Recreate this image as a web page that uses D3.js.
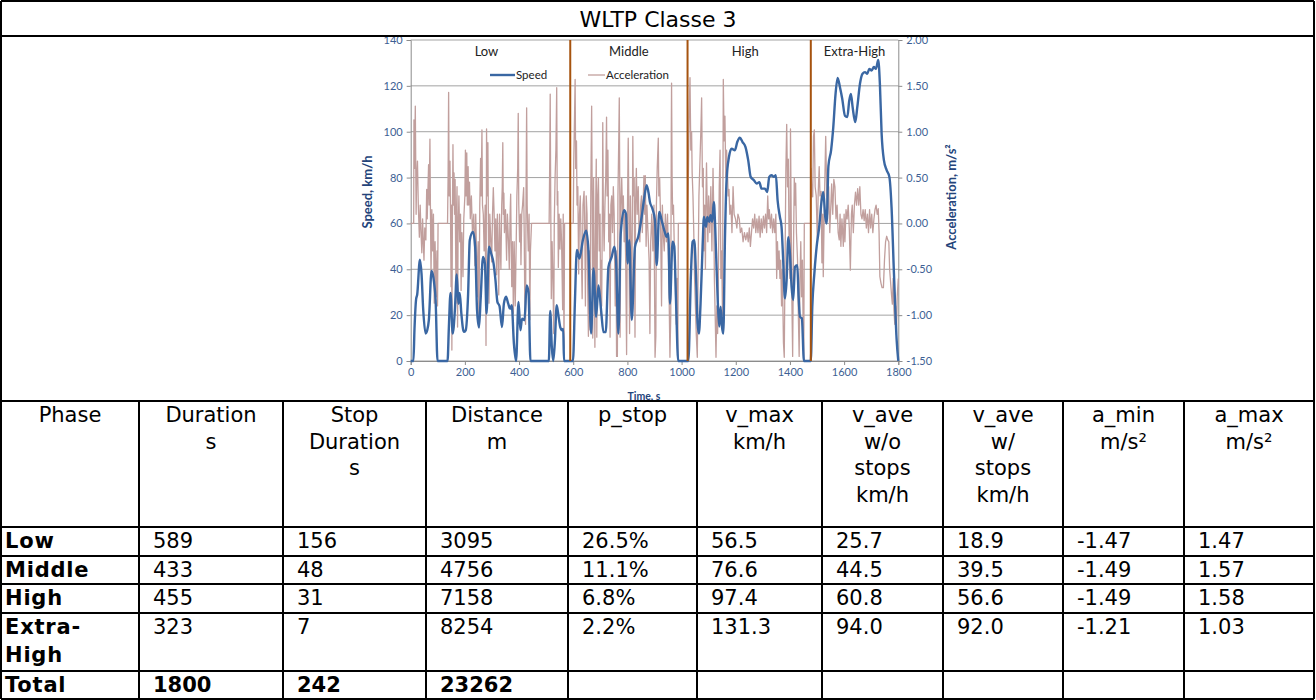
<!DOCTYPE html>
<html>
<head>
<meta charset="utf-8">
<script src="https://d3js.org/d3.v7.min.js"></script>
<title>WLTP Classe 3</title>
<style>
  body { margin: 0; padding: 0; background: #fff; }
  svg { display: block; }
  .cell { font-family: "DejaVu Sans", sans-serif; font-size: 21px; fill: #000; }
  .ax text { font-family: Lato, "Noto Sans", sans-serif; font-size: 11px; fill: #3d5f94; }
  .ax path, .ax line { stroke: #8c8c8c; }
  .lbl { font-family: Lato, "Noto Sans", sans-serif; font-size: 13px; fill: #222; }
  .atitle { font-family: Lato, sans-serif; font-weight: bold; fill: #24447a; }
</style>
</head>
<body>
<script>
// ---- table data ----
var title = "WLTP Classe 3";
var headers = [["Phase"], ["Duration", "s"], ["Stop", "Duration", "s"], ["Distance", "m"], ["p_stop"],
  ["v_max", "km/h"], ["v_ave", "w/o", "stops", "km/h"], ["v_ave", "w/", "stops", "km/h"], ["a_min", "m/s²"], ["a_max", "m/s²"]];
var phases = ["Low", "Middle", "High", "Extra-High"];
var duration = [589, 433, 455, 323];
var stopDuration = [156, 48, 31, 7];
var distance = [3095, 4756, 7158, 8254];
var pStop = ["26.5%", "11.1%", "6.8%", "2.2%"];
var vMax = [56.5, 76.6, 97.4, 131.3];
var vAveNoStops = [25.7, 44.5, 60.8, 94.0];
var vAveStops = [18.9, 39.5, 56.6, 92.0];
var aMin = [-1.47, -1.49, -1.49, -1.21];
var aMax = [1.47, 1.57, 1.58, 1.03];
var totalRow = ["Total", 1800, 242, 23262];

// ---- chart data ----
var timeTicks = [0, 200, 400, 600, 800, 1000, 1200, 1400, 1600, 1800];
var speedTicks = [0, 20, 40, 60, 80, 100, 120, 140];
var accelTicks = [-1.5, -1, -0.5, 0, 0.5, 1, 1.5, 2];

var speedT = [0,10,14,20,24,34,40,46,55,61,67,77,86,92,99,136,141,147,155,163,170,176,181,187,196,203,212,218,230,238,245,252,258,267,274,280,289,297,306,313,320,328,337,344,352,360,367,373,381,389,398,405,411,420,428,435,442,510,515,521,526,532,539,546,552,559,563,566,
  589,599,606,613.5,623,635.5,647.8,656,666,674.8,684.6,693,703,711.6,720,730,742,752,758,766.7,775.4,787.6,795,801,807,816,828,840,852.7,861,871,878.5,883,891.8,901.7,908,917.6,926.4,936,944.7,951,957,966.8,973,979,987.6,1022,
  1025,1034.5,1040.6,1046.8,1053,1059,1064,1070,1077.5,1082.5,1090,1094.8,1102,1107,1113,1119,1124,1129,1134,1139,1144,1149,1154,1160,1166,1175,1184.6,1197,1205.5,1215,1225,1236,1246,1255,1267,1277,1287,1295,1307.7,1316,1323.7,1332,1341,1348,1354.5,1363,1369,1375,1381.5,1387.7,1394,1400,1406,1412,1418.5,1427,1432,1437,1444,1451.7,1477,
  1482.5,1490,1498.5,1508,1517,1523,1530.5,1535.4,1542,1552,1560,1568,1576,1584.6,1593,1603,1611.7,1619,1625,1631.4,1641,1648.6,1658.5,1668,1677,1685.5,1693,1701.5,1710,1717.5,1726,1732,1738.5,1747,1757,1767,1775,1784,1794,1800];
var speedV = [0,0,14,27,29,44.2,38,22.8,12,13.4,17.8,39.3,34.5,26.5,0,0,15,29.7,12,22,37.8,25,29.7,20.7,12.7,13.4,29.4,52.7,56.3,49.8,22,14.6,26.5,45.4,42.5,20.7,49.8,46.9,42.5,35.2,25.8,23.9,14.8,25,28,25,22.8,24.3,7.6,0,25.8,13.4,18.5,17.8,33,30,0,0,21.8,6,0,8,24.3,19.2,14.8,13.4,14,0,
  0,0,25,48.4,44.7,52.7,56.8,48.4,12,40.4,19.3,33,22,12.6,12.6,41,45.4,49.8,44,12,55.6,65.8,64,42.5,52.7,17.9,49.8,54.2,62.9,70.2,76.7,73,69.4,66.6,61.4,41.8,65,61.4,57,54.2,55.6,25,52,50,28,0,0,
  0,38,52,52.7,38,16.4,12,25,49.8,62.8,58.5,62.8,60.7,63.6,60.7,69.4,58.5,41,25,15,23.7,15,12,52.7,78.8,89,92.6,91.9,95.5,97.4,95.5,93.3,87.5,80.3,78.8,77.4,78,75.2,75.2,73.7,80.3,81,80.3,81,70,62.8,58.5,44,27.3,35.3,54,46.9,32.4,26.6,41,41.8,28,19.3,18.6,0,0,
  23.7,38,49.8,58.5,70,73.7,62.8,60,85,92,102,116,123.5,119.4,114.4,107,106.4,113.6,116.5,110.7,104.2,110.7,120.9,125.3,126,125.3,127.4,126.7,128.2,127.4,131.3,120.9,99,87.5,83.2,80.3,67.2,38,9,0];

var accelT = [0,11,12,14,17,20,22,25,28,32,35,38,41,44,47,49,52,56,59,61,63,66,68,71,73,75,78,81,84,87,90,94,97,99,101,136,138,140,142,145,147,149,151,152,154,156,158,160,162,164,166,167,169,171,173,175,178,181,184,186,189,193,196,200,202,204,207,209,212,214,217,220,224,228,233,237,240,243,246,249,252,255,258,260,263,265,268,271,275,278,280,282,285,287,289,292,296,299,302,305,308,311,314,317,320,322,325,328,330,333,336,338,340,342,344,346,350,354,357,361,364,367,369,371,373,376,379,382,386,389,392,395,397,399,402,405,407,410,413,417,419,421,424,426,428,430,432,434,437,440,442,446,511,513,515,517,519,522,525,528,530,533,536,539,541,543,545,548,551,554,557,561,563,566,568,
  600,602,605,607,609,612,614,617,620,623,626,629,633,636,640,643,645,648,651,653,656,659,662,665,668,670,672,675,678,680,683,685,687,690,693,696,699,701,704,705,708,709,711,714,717,720,723,725,728,731,734,736,739,742,745,748,751,755,758,760,763,765,768,770,772,773,776,779,782,785,788,791,794,797,800,803,805,808,811,814,816,819,820,822,825,828,830,833,836,840,843,846,849,852,855,858,861,864,866,869,872,876,880,883,886,890,894,898,902,905,907,910,914,916,919,922,926,929,932,936,940,944,948,951,954,957,960,962,963,965,967,970,974,977,980,983,986,988,1022,
  1025,1028,1031,1034,1037,1039,1042,1045,1048,1051,1054,1058,1061,1064,1068,1071,1074,1077,1080,1082,1085,1088,1090,1092,1095,1097,1100,1104,1108,1112,1116,1119,1121,1124,1127,1130,1133,1136,1139,1142,1145,1148,1151,1154,1157,1160,1163,1166,1169,1172,1175,1178,1182,1186,1190,1194,1199,1204,1208,1213,1217,1222,1227,1232,1237,1242,1246,1250,1254,1258,1262,1266,1270,1274,1278,1282,1286,1290,1294,1298,1302,1306,1310,1314,1318,1321,1324,1328,1332,1336,1340,1344,1348,1351,1354,1357,1360,1363,1366,1369,1372,1376,1379,1382,1385,1388,1391,1394,1397,1400,1402,1404,1407,1410,1413,1416,1419,1421,1424,1428,1431,1434,1437,1440,1443,1446,1449,1451,1453,1477,
  1478,1481,1484,1487,1490,1493,1497,1501,1504,1508,1511,1515,1518,1521,1523,1527,1532,1536,1539,1543,1547,1551,1554,1558,1562,1566,1570,1574,1578,1582,1585,1588,1592,1597,1600,1603,1607,1611,1615,1619,1623,1627,1630,1634,1638,1642,1646,1650,1654,1658,1662,1666,1670,1674,1678,1682,1686,1690,1694,1698,1702,1706,1710,1714,1718,1722,1726,1729,1732,1736,1740,1745,1749,1753,1757,1761,1765,1768,1771,1775,1778,1781,1784,1787,1790,1793,1796,1800];
var accelV = [0,0,1.13,0.6,1.28,0.1,0.5,0.68,0.2,-0.15,0.2,-0.1,-0.32,0.05,-0.25,-0.4,-0.05,-0.18,0.37,0.05,0.3,0.64,0.2,0.92,0.1,-0.54,0.15,-0.3,0.1,-0.87,-0.2,-0.8,-0.3,-0.9,0,0,0.5,1.43,0.3,0.68,0.1,-0.69,0.2,-1.38,0.1,0.86,0.2,0.55,0.1,0.48,-0.3,-0.87,0.1,0.4,-1.13,-0.1,0.3,-0.2,0.1,-0.73,-0.1,-0.58,0.05,0.3,0.8,0.3,0.77,0.2,0.62,0.2,0.45,0.05,0.3,-0.1,0.1,-0.46,0.1,-0.3,-0.8,-0.2,-1.13,0.2,0.71,0.3,1.02,0.2,0.1,-0.3,0.2,-1.33,1.03,0.3,0.88,-0.1,-0.87,0.1,-0.2,-0.42,0.1,0.39,0.1,-0.3,0.05,-0.56,0.1,-0.2,-0.78,0.1,-0.2,-0.5,0.2,0.4,0.88,0.1,0.33,-0.1,0.15,-0.4,0.1,-0.2,-0.5,0.1,0.32,-0.2,-0.69,-0.2,-0.98,-0.2,-0.9,-0.3,0.3,0.6,1.2,0.2,-0.2,0.1,-0.45,0.1,0.2,0.39,-0.1,-0.8,-1.1,0.4,1.26,0.2,-0.1,-0.3,0.1,-1.05,-0.3,0,0,0.6,1.41,0.2,-0.82,-0.2,-0.6,-1.2,0,0.5,0.8,1.48,0.2,0.35,-0.48,0.1,-0.28,0.05,-0.2,-0.94,0.1,-1.36,0,
  0,0.7,1.2,1.57,0.6,0.9,0.2,0.4,-0.55,0.1,0.3,-0.2,-0.82,0.2,0.35,-0.2,-0.9,0.3,0.1,-0.6,-1.23,-0.3,-1.16,0.4,1.28,0.3,-1.25,0.5,-0.6,-1.35,0.2,0.7,-1.24,0.3,0.5,-0.3,0.1,-1.0,-0.4,-0.9,0.3,1.1,0.2,-0.3,0.2,0.5,1.16,0.3,0.8,-0.2,0.1,-1.24,0.2,0.3,-0.1,0.4,0.1,-0.9,-0.3,-1.45,-1.45,0.3,0.9,1.37,0.3,-1.24,0.2,0.5,0.1,0.3,-0.2,0.1,-0.5,-1.43,0.1,0.93,0.3,-1.2,0.3,-0.4,-0.9,0.4,0.95,0.3,0.5,-1.24,0.2,0.6,0.1,0.4,-0.1,-0.2,0.2,0.3,-0.1,0.2,0.52,0.1,0.52,-0.25,0.2,-0.1,-0.4,-1.2,-0.2,0.1,-0.3,0.2,-1.46,-1.23,0.2,0.6,0.93,0.3,0.5,0.1,-0.9,0.2,-0.1,-0.3,0.1,-0.2,0.1,-0.3,-0.8,-1.46,-1.0,1.0,1.53,0.5,0.1,0.2,-0.4,-0.6,-1.1,-0.6,-1.46,0,0,
  0.5,1.2,1.59,0.8,1.0,0.55,0.3,-0.1,-0.6,-0.9,-1.2,-1.46,-0.5,0.3,0.7,1.0,1.37,0.4,0.6,-0.3,0.2,-0.5,0.3,0.66,0.1,-0.2,0.3,-0.1,0.4,-0.3,0.6,0.1,-0.6,-1.0,-1.46,-0.9,-1.2,-0.5,0.4,0.8,-0.6,-0.3,-1.0,1.57,0.9,1.17,0.5,0.8,0.6,0.3,0.37,0.1,0.2,-0.1,0.4,0.1,0.05,-0.05,0.1,0.05,-0.1,-0.05,-0.2,-0.1,-0.18,-0.1,-0.2,-0.05,-0.25,-0.1,0.05,-0.05,0.1,-0.1,0.05,-0.1,0.08,-0.15,0.05,-0.1,0.08,-0.05,0.1,-0.1,0.3,0.05,0.15,-0.05,0.1,-0.1,0.05,-0.1,0.1,-0.6,-0.2,-0.5,-0.3,-0.6,-0.4,-0.9,-0.5,-1.3,-1.46,-0.4,0.6,1.08,0.4,0.7,-0.3,-0.6,1.03,0.3,-0.8,-1.45,-0.3,0.5,0.2,0.44,-0.1,-0.4,-1.0,-1.45,-0.6,-0.2,-0.8,-0.4,-1.2,-1.49,0,0,
  0.6,0.3,0.29,0.95,1.02,0.4,0.3,-0.18,0.3,0.62,0.3,0.35,-0.43,0.1,-0.58,0.2,0.95,0.3,0.1,0.4,-0.1,0.2,0.43,0.1,0.48,0.4,0.05,0.2,-0.1,-0.18,0.1,-0.25,0.05,-0.25,0.1,-0.2,0.15,0.05,0.2,-0.05,-0.51,0.1,0.2,-0.1,0.2,0.34,0.2,0.38,0.2,0.4,0.1,0.05,0.15,0.03,0.15,-0.05,0.1,-0.1,0.15,-0.05,0.1,-0.1,0.05,0.15,0.2,0.1,0.16,-0.1,-0.58,-0.65,-0.7,-0.7,-0.4,-0.2,-0.14,-0.18,-0.2,-0.5,-0.62,-0.78,-0.88,-0.6,-0.95,-1.1,-0.9,-1.21,-0.8,-0.6];

// ---- layout ----
var W = 1316, H = 700;
var colX = [1, 139, 283, 426, 568, 697, 822, 943, 1063, 1184, 1314];
var rowY = [1, 36, 401, 527, 556, 584, 613, 671, 699];

var svg = d3.select("body").append("svg").attr("width", W).attr("height", H);

// ---- chart ----
var x = d3.scaleLinear().domain([0, 1800]).range([410.7, 898.3]);
var yS = d3.scaleLinear().domain([0, 140]).range([361, 40]);
var yA = d3.scaleLinear().domain([-1.5, 2]).range([361, 40]);

var chart = svg.append("g");

chart.selectAll(".grid").data(speedTicks).enter().append("line")
  .attr("x1", x(0)).attr("x2", x(1800))
  .attr("y1", function(d) { return yS(d); }).attr("y2", function(d) { return yS(d); })
  .attr("stroke", "#a3a3a3").attr("stroke-width", 1);

var fmtA = function(d) { return d3.format(".2f")(d).replace("−", "-"); };
chart.append("g").attr("class", "ax").attr("transform", "translate(" + x(0) + ",0)")
  .call(d3.axisLeft(yS).tickValues(speedTicks).tickSize(4).tickPadding(4));
chart.append("g").attr("class", "ax").attr("transform", "translate(" + x(1800) + ",0)")
  .call(d3.axisRight(yA).tickValues(accelTicks).tickSize(4).tickPadding(4).tickFormat(fmtA));
chart.append("g").attr("class", "ax").attr("transform", "translate(0," + yS(0) + ")")
  .call(d3.axisBottom(x).tickValues(timeTicks).tickSize(4).tickPadding(3).tickFormat(d3.format("d")));
chart.selectAll(".ax .domain").attr("stroke", "#8c8c8c");

var accelLine = d3.line()
  .x(function(d, i) { return x(accelT[i]); })
  .y(function(d) { return yA(d); });
chart.append("path").datum(accelV)
  .attr("d", accelLine).attr("fill", "none")
  .attr("stroke", "#c19f9d").attr("stroke-width", 1.3).attr("stroke-linejoin", "round");

var speedLine = d3.line()
  .x(function(d, i) { return x(speedT[i]); })
  .y(function(d) { return yS(d); })
  .curve(d3.curveMonotoneX);
chart.append("path").datum(speedV)
  .attr("d", speedLine).attr("fill", "none")
  .attr("stroke", "#3a67a3").attr("stroke-width", 2.4).attr("stroke-linejoin", "round");

// phase boundaries from cumulative durations
var bounds = [0];
duration.forEach(function(d, i) { bounds.push(bounds[i] + d); });
chart.selectAll(".phase").data(bounds.slice(1, 4)).enter().append("line")
  .attr("x1", function(d) { return x(d); }).attr("x2", function(d) { return x(d); })
  .attr("y1", yS(140)).attr("y2", yS(0))
  .attr("stroke", "#a6530f").attr("stroke-width", 2);

chart.selectAll(".plabel").data(phases).enter().append("text")
  .attr("class", "lbl")
  .attr("x", function(d, i) { return x((bounds[i] + bounds[i + 1]) / 2) - (i % 2 === 0 ? 4 : 0); })
  .attr("y", 56).attr("text-anchor", "middle")
  .text(function(d) { return d; });

// legend
var leg = chart.append("g").attr("class", "lbl").style("font-size", "11.5px");
leg.append("line").attr("x1", 490).attr("x2", 515).attr("y1", 75).attr("y2", 75)
  .attr("stroke", "#3a67a3").attr("stroke-width", 2.4);
leg.append("text").attr("x", 516).attr("y", 79).text("Speed");
leg.append("line").attr("x1", 588).attr("x2", 605).attr("y1", 75).attr("y2", 75)
  .attr("stroke", "#c19f9d").attr("stroke-width", 1.3);
leg.append("text").attr("x", 606).attr("y", 79).text("Acceleration");

// axis titles
chart.append("text").attr("class", "atitle").attr("transform", "translate(372,192) rotate(-90)")
  .attr("text-anchor", "middle").attr("font-size", "13px").text("Speed, km/h");
chart.append("text").attr("class", "atitle").attr("transform", "translate(956,197) rotate(-90)")
  .attr("text-anchor", "middle").attr("font-size", "13px").text("Acceleration, m/s²");
chart.append("text").attr("class", "atitle").attr("x", 644).attr("y", 400)
  .attr("text-anchor", "middle").attr("font-size", "10.5px").attr("fill", "#2e5597").text("Time, s");

// ---- table ----
var tbl = svg.append("g");
tbl.append("rect").attr("x", 0).attr("y", rowY[2]).attr("width", W).attr("height", H - rowY[2]).attr("fill", "#fff");

// title
tbl.append("text").attr("class", "cell").attr("x", W / 2).attr("y", 27)
  .attr("text-anchor", "middle").style("font-size", "22px").text(title);

// header
headers.forEach(function(lines, c) {
  var cx = (colX[c] + colX[c + 1]) / 2;
  lines.forEach(function(s, k) {
    tbl.append("text").attr("class", "cell").attr("x", cx).attr("y", 422 + k * 26.5)
      .attr("text-anchor", "middle").text(s);
  });
});

// body rows
var body = phases.map(function(p, i) {
  return [p, duration[i], stopDuration[i], distance[i], pStop[i], vMax[i].toFixed(1),
    vAveNoStops[i].toFixed(1), vAveStops[i].toFixed(1), aMin[i].toFixed(2), aMax[i].toFixed(2)];
});
body.push(totalRow.concat(["", "", "", "", "", ""]));

body.forEach(function(row, r) {
  var top = rowY[r + 3];
  row.forEach(function(val, c) {
    var bold = (c === 0 || r === 4);
    var px = colX[c] + (c === 0 ? 4 : 14);
    var parts = (c === 0 && val === "Extra-High") ? ["Extra-", "High"] : [String(val)];
    parts.forEach(function(s, k) {
      var t = tbl.append("text").attr("class", "cell").attr("x", px).attr("y", top + 21 + k * 28)
        .attr("font-weight", bold ? "bold" : "normal").text(s);
      if (c === 0) t.style("letter-spacing", "0.8px");
    });
  });
});

// grid lines
var lw = 2;
rowY.forEach(function(y) {
  tbl.append("line").attr("x1", colX[0]).attr("x2", colX[10]).attr("y1", y).attr("y2", y)
    .attr("stroke", "#000").attr("stroke-width", lw);
});
colX.forEach(function(cx, i) {
  var y1 = (i === 0 || i === 10) ? rowY[0] : rowY[2];
  tbl.append("line").attr("x1", cx).attr("x2", cx).attr("y1", y1).attr("y2", rowY[8])
    .attr("stroke", "#000").attr("stroke-width", lw);
});
</script>
</body>
</html>
